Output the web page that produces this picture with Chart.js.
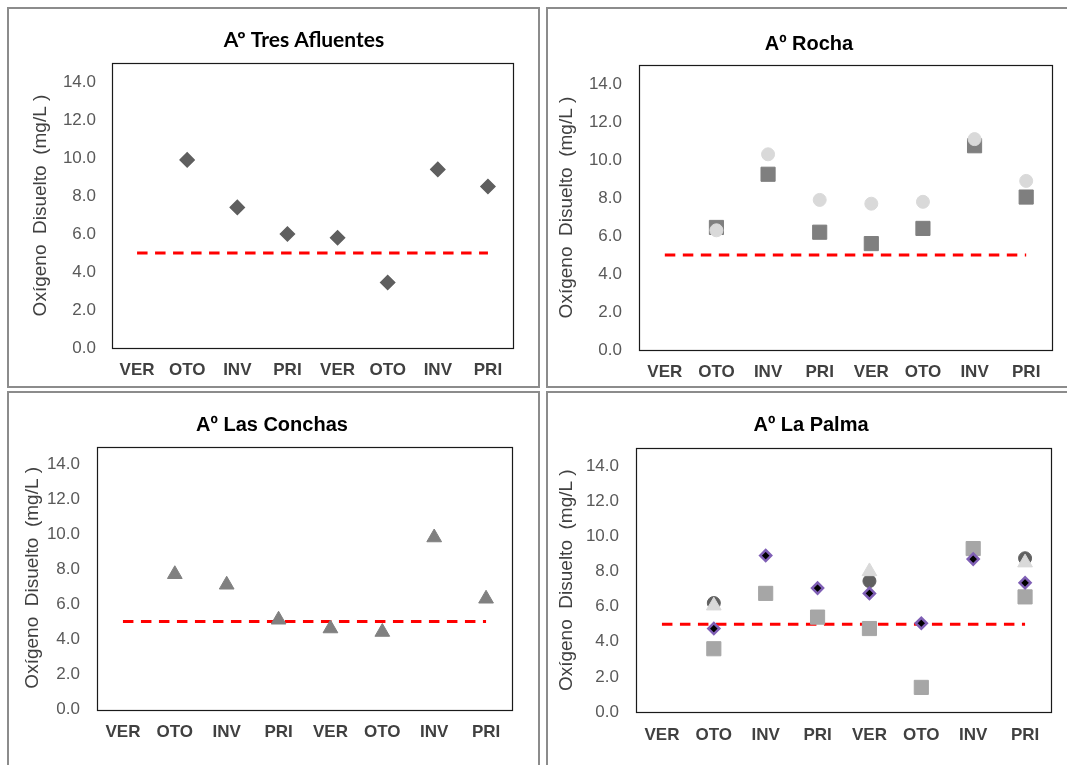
<!DOCTYPE html>
<html>
<head>
<meta charset="utf-8">
<script src="https://cdn.jsdelivr.net/npm/chart.js"></script>
<style>
  html, body { margin: 0; padding: 0; background: #ffffff; }
  #wrap { position: relative; width: 1067px; height: 765px; overflow: hidden; background: #fff; }
  .panel { position: absolute; box-sizing: border-box; border: 2px solid #8c8c8c; }
  canvas { position: absolute; }
</style>
</head>
<body>
<div id="wrap">
  <div class="panel" style="left:7px;top:7px;width:533px;height:381px;"></div>
  <div class="panel" style="left:546px;top:7px;width:540px;height:381px;"></div>
  <div class="panel" style="left:7px;top:391px;width:533px;height:400px;"></div>
  <div class="panel" style="left:546px;top:391px;width:540px;height:400px;"></div>
  <canvas id="c1" width="528" height="376" style="left:10px;top:10px;width:528px;height:376px;"></canvas>
  <canvas id="c2" width="518" height="376" style="left:549px;top:10px;width:518px;height:376px;"></canvas>
  <canvas id="c3" width="528" height="371" style="left:10px;top:394px;width:528px;height:371px;"></canvas>
  <canvas id="c4" width="518" height="371" style="left:549px;top:394px;width:518px;height:371px;"></canvas>
</div>
<script>
// ---- data ----
const categories = ['VER', 'OTO', 'INV', 'PRI', 'VER', 'OTO', 'INV', 'PRI'];
const yTickValues = [0, 2, 4, 6, 8, 10, 12, 14];
const limitValues = [5, 5, 5, 5, 5, 5, 5, 5];

const tresAfluentes = [null, 9.9, 7.4, 6.0, 5.8, 3.45, 9.4, 8.5];

const rochaSquares = [null, 6.45, 9.25, 6.2, 5.6, 6.4, 10.75, 8.05];
const rochaCircles = [null, 6.3, 10.3, 7.9, 7.7, 7.8, 11.1, 8.9];

const lasConchas = [null, 7.7, 7.1, 5.1, 4.6, 4.4, 9.8, 6.3];

const palmaSquares = [null, 3.6, 6.75, 5.4, 4.75, 1.4, 9.3, 6.55];
const palmaDiamonds = [null, 4.75, 8.9, 7.05, 6.75, 5.05, 8.7, 7.35];
const palmaCircles = [null, 6.2, null, null, 7.45, null, null, 8.75];
const palmaTriangles = [null, 6.05, null, null, 8.0, null, null, 8.5];

const titles = ['Aº Tres Afluentes', 'Aº Rocha', 'Aº Las Conchas', 'Aº La Palma'];
const yAxisTitle = 'Oxígeno  Disuelto  (mg/L )';

// ---- helpers ----
Chart.defaults.font.family = "'Liberation Sans', Arial, sans-serif";
Chart.defaults.devicePixelRatio = 1;

const panelTitle = {
  id: 'panelTitle',
  afterDraw(chart, args, o) {
    const ctx = chart.ctx;
    ctx.save();
    ctx.font = o.font;
    ctx.fillStyle = o.color || '#000';
    ctx.textAlign = 'center';
    ctx.textBaseline = 'middle';
    ctx.fillText(o.text, o.x, o.y);
    ctx.restore();
  }
};
const frame = {
  id: 'frame',
  beforeDatasetsDraw(chart) {
    const a = chart.chartArea, ctx = chart.ctx;
    ctx.save();
    ctx.strokeStyle = '#1a1a1a';
    ctx.lineWidth = 1.2;
    ctx.strokeRect(Math.round(a.left) + 0.5, Math.round(a.top) + 0.5,
                   Math.round(a.right - a.left), Math.round(a.bottom - a.top));
    ctx.restore();
  }
};

function limitDataset() {
  return {
    type: 'line', data: limitValues, borderColor: '#ff0000', borderWidth: 3,
    borderDash: [10.5, 7.5], pointRadius: 0, fill: false, order: 20
  };
}
function pts(data, style, radius, bg, border, bw, order) {
  return {
    type: 'line', data: data, showLine: false, pointStyle: style,
    pointRadius: radius, pointHoverRadius: radius,
    pointBackgroundColor: bg, pointBorderColor: border, pointBorderWidth: bw,
    order: order
  };
}

function makeChart(id, L, datasets) {
  new Chart(document.getElementById(id), {
    type: 'line',
    data: { labels: categories, datasets: datasets },
    plugins: [panelTitle, frame],
    options: {
      responsive: false,
      maintainAspectRatio: false,
      animation: false,
      events: [],
      layout: { padding: { left: 0, right: L.padRight, top: L.padTop, bottom: 0 } },
      plugins: {
        legend: { display: false },
        tooltip: { enabled: false },
        panelTitle: { text: L.title, x: L.tx, y: L.ty, font: L.tfont, color: '#000' }
      },
      scales: {
        x: {
          type: 'category', offset: true,
          grid: { display: false, drawTicks: false },
          border: { display: false },
          ticks: {
            autoSkip: false, maxRotation: 0, padding: L.xPad,
            color: '#404040', font: { size: 17, weight: 'bold' }
          },
          afterFit: s => { s.height = L.xH; }
        },
        y: {
          min: 0, max: 15,
          grid: { display: false, drawTicks: false },
          border: { display: false },
          afterBuildTicks: s => { s.ticks = yTickValues.map(v => ({ value: v })); },
          ticks: {
            padding: L.yPad, color: '#595959', font: { size: 17 },
            callback: v => Number(v).toFixed(1)
          },
          title: {
            display: true, text: yAxisTitle, color: '#404040',
            font: { size: 19 }, padding: { top: L.ytPad, bottom: 0 }
          },
          afterFit: s => { s.width = L.yW; }
        }
      }
    }
  });
}

// Panel 1: Tres Afluentes
makeChart('c1', {
  title: titles[0], tx: 294, ty: 30, tfont: "bold 21px Lato, 'Liberation Sans', sans-serif",
  padTop: 53, padRight: 25, xH: 38, xPad: 12, yW: 102, yPad: 16, ytPad: 19
}, [
  pts(tresAfluentes, 'rectRot', 7, '#5f5f5f', '#5f5f5f', 1.5, 1),
  limitDataset()
]);

// Panel 2: Rocha
makeChart('c2', {
  title: titles[1], tx: 260, ty: 34, tfont: "bold 20px 'Liberation Sans', Arial, sans-serif",
  padTop: 55, padRight: 15, xH: 36, xPad: 12, yW: 90, yPad: 17, ytPad: 6
}, [
  pts(rochaCircles, 'circle', 6.5, '#d9d9d9', '#d9d9d9', 1, 1),
  pts(rochaSquares, 'rect', 10, '#7f7f7f', '#7f7f7f', 1, 2),
  limitDataset()
]);

// Panel 3: Las Conchas
makeChart('c3', {
  title: titles[2], tx: 262, ty: 31, tfont: "bold 20px 'Liberation Sans', Arial, sans-serif",
  padTop: 52.5, padRight: 26, xH: 56, xPad: 13, yW: 87, yPad: 17, ytPad: 11
}, [
  pts(lasConchas, 'triangle', 8.5, '#808080', '#808080', 1, 1),
  limitDataset()
]);

// Panel 4: La Palma
makeChart('c4', {
  title: titles[3], tx: 262, ty: 31, tfont: "bold 20px 'Liberation Sans', Arial, sans-serif",
  padTop: 54.4, padRight: 16, xH: 53, xPad: 13, yW: 87, yPad: 17, ytPad: 6
}, [
  pts(palmaDiamonds, 'rectRot', 5.5, '#000000', '#7f5fb5', 2.5, 1),
  pts(palmaTriangles, 'triangle', 8.5, '#d9d9d9', '#d9d9d9', 1, 2),
  pts(palmaCircles, 'circle', 6.5, '#606060', '#606060', 1, 3),
  pts(palmaSquares, 'rect', 10, '#a6a6a6', '#a6a6a6', 1, 4),
  limitDataset()
]);
</script>
</body>
</html>
